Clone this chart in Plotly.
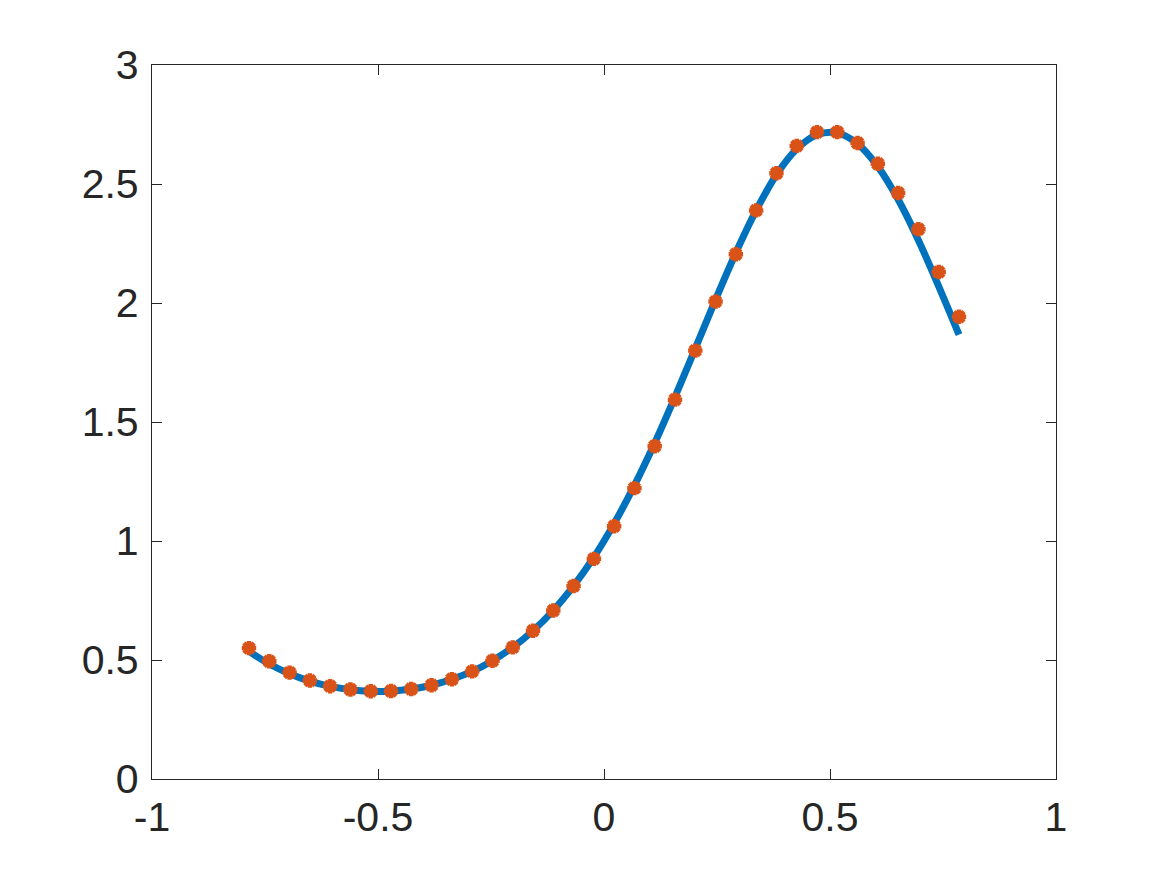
import plotly.graph_objects as go

# x positions of the samples (-pi/4 .. pi/4, 36 points)
x_vals = [-0.7854, -0.7405, -0.6956, -0.6508, -0.6059, -0.5610, -0.5161, -0.4712,
          -0.4264, -0.3815, -0.3366, -0.2917, -0.2468, -0.2020, -0.1571, -0.1122,
          -0.0673, -0.0224, 0.0224, 0.0673, 0.1122, 0.1571, 0.2020, 0.2468,
          0.2917, 0.3366, 0.3815, 0.4264, 0.4712, 0.5161, 0.5610, 0.6059,
          0.6508, 0.6956, 0.7405, 0.7854]

# blue curve values
line_y = [0.536, 0.483, 0.442, 0.411, 0.389, 0.375, 0.368, 0.369,
          0.378, 0.394, 0.419, 0.452, 0.497, 0.553, 0.623, 0.708,
          0.811, 0.932, 1.073, 1.234, 1.412, 1.606, 1.809, 2.014,
          2.211, 2.389, 2.539, 2.647, 2.707, 2.715, 2.669, 2.573,
          2.435, 2.264, 2.070, 1.867]

# orange marker values
marker_y = [0.550, 0.495, 0.447, 0.414, 0.390, 0.376, 0.369, 0.370,
            0.378, 0.394, 0.419, 0.452, 0.497, 0.553, 0.623, 0.708,
            0.811, 0.925, 1.062, 1.222, 1.398, 1.594, 1.800, 2.006,
            2.205, 2.389, 2.545, 2.660, 2.718, 2.718, 2.672, 2.585,
            2.462, 2.310, 2.130, 1.942]

x_ticks = [-1, -0.5, 0, 0.5, 1]
x_tick_text = ["-1", "-0.5", "0", "0.5", "1"]
y_ticks = [0, 0.5, 1, 1.5, 2, 2.5, 3]
y_tick_text = ["0", "0.5", "1", "1.5", "2", "2.5", "3"]

fig = go.Figure()
fig.add_trace(go.Scatter(
    x=x_vals, y=line_y, mode="lines",
    line=dict(color="#0072BD", width=7, shape="spline"),
    hoverinfo="skip", showlegend=False))
fig.add_trace(go.Scatter(
    x=x_vals, y=marker_y, mode="markers",
    marker=dict(symbol="asterisk-open", size=12, color="#D95319",
                line=dict(color="#D95319", width=4.5)),
    hoverinfo="skip", showlegend=False))

axis_common = dict(
    showline=True, linecolor="#262626", linewidth=1.3, mirror="ticks",
    ticks="inside", ticklen=10, tickwidth=1.3, tickcolor="#262626",
    showgrid=False, zeroline=False,
    tickfont=dict(family="Liberation Sans, Arial, Helvetica, sans-serif",
                  size=41, color="#262626"),
)

fig.update_xaxes(range=[-1, 1], tickvals=x_ticks, ticktext=x_tick_text,
                 ticklabelstandoff=2, **axis_common)
fig.update_yaxes(range=[0, 3], tickvals=y_ticks, ticktext=y_tick_text,
                 ticklabelstandoff=4, **axis_common)

fig.update_layout(
    width=1167, height=875,
    margin=dict(l=144, r=119, t=57, b=104, autoexpand=False),
    paper_bgcolor="white", plot_bgcolor="white",
)

fig.write_html("out.html")
